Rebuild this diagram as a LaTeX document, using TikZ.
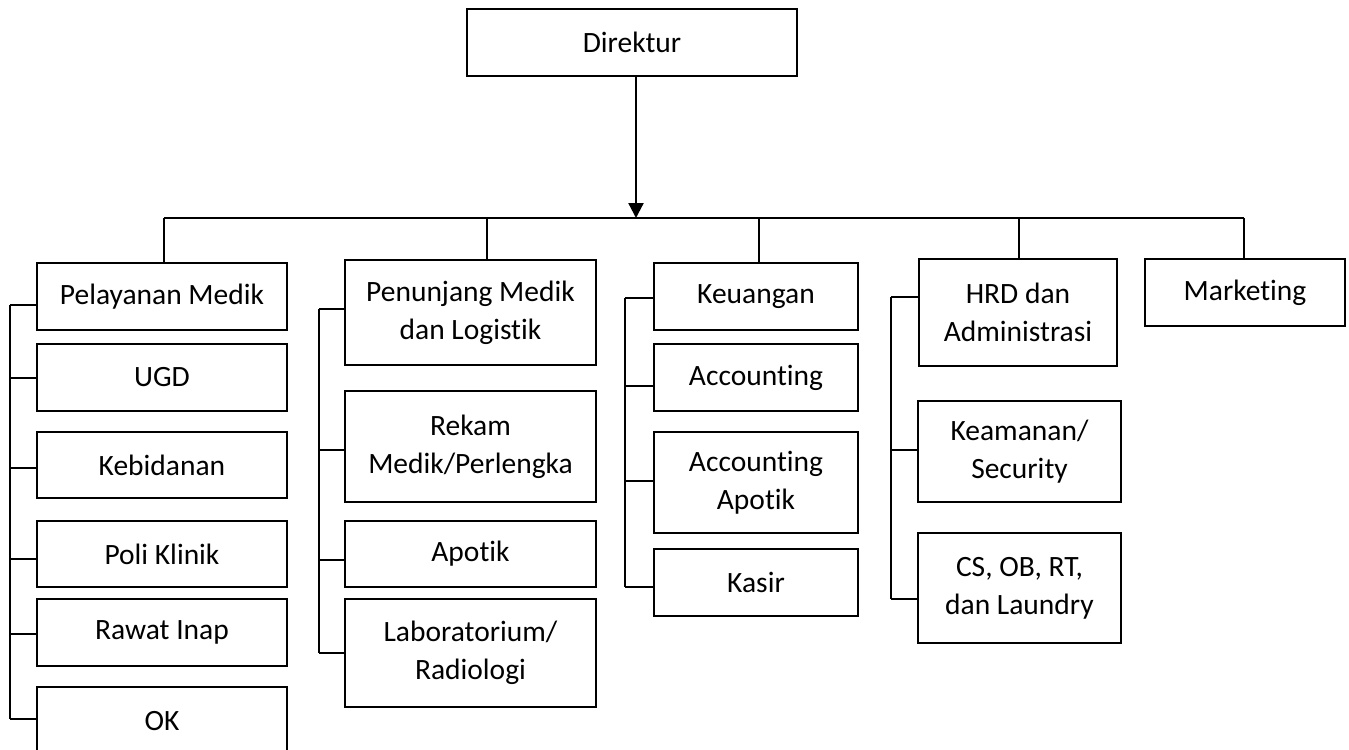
\documentclass[tikz,border=0pt]{standalone}
\usepackage{fontspec}
\setmainfont{Carlito}[Ligatures=NoCommon]
\usepackage{tikz}
\usetikzlibrary{positioning, arrows.meta, calc}

\begin{document}
\begin{tikzpicture}[x=0.4pt, y=-0.4pt, font=\fontsize{11.8}{15.2}\selectfont, >={Triangle[width=6pt, length=6pt]}]
        % 공통 스타일 설정
        \tikzset{
            unit/.style={draw, line width=1pt, align=center, inner sep=0pt},
            link/.style={line width=0.9pt}
        }
        \useasboundingbox (0,0) rectangle (1349,749);

        % --- 최상위 ---
        \node[unit, minimum width=132pt, minimum height=26.8pt] (dir) at (632,42.5) {Direktur};

        % --- 부서 (1단) ---
        \node[unit, minimum width=100pt, minimum height=26.8pt] (pel) at (162,296.5) {Pelayanan Medik};
        \node[unit, minimum width=100.4pt, minimum height=42pt] (pen) at (470.5,312.5) {Penunjang Medik\\dan Logistik};
        \node[unit, minimum width=81.6pt, minimum height=26.8pt] (keu) at (756,296.5) {Keuangan};
        \node[unit, minimum width=79.2pt, minimum height=42.8pt] (hrd) at (1018,312.5) {HRD dan\\Administrasi};
        \node[unit, minimum width=80pt, minimum height=26.8pt] (mkt) at (1245,292.5) {Marketing};

        % --- Pelayanan Medik 하위 ---
        \node[unit, minimum width=100pt, minimum height=26.8pt] (ugd) at (162,377.5) {UGD};
        \node[unit, minimum width=100pt, minimum height=26.4pt] (keb) at (162,465) {Kebidanan};
        \node[unit, minimum width=100pt, minimum height=26.4pt] (poli) at (162,554) {Poli Klinik};
        \node[unit, minimum width=100pt, minimum height=26.8pt] (rawat) at (162,632.5) {Rawat Inap};
        \node[unit, minimum width=100pt, minimum height=27.2pt] (ok) at (162,721) {OK};

        % --- Penunjang Medik 하위 ---
        \node[unit, minimum width=100.4pt, minimum height=44.4pt] (rekam) at (470.5,446.5) {Rekam\\Medik/Perlengka};
        \node[unit, minimum width=100.4pt, minimum height=26.4pt] (apotik) at (470.5,554) {Apotik};
        \node[unit, minimum width=100.4pt, minimum height=43.2pt] (lab) at (470.5,653) {Laboratorium/\\Radiologi};

        % --- Keuangan 하위 ---
        \node[unit, minimum width=81.6pt, minimum height=26.8pt] (acc) at (756,377.5) {Accounting};
        \node[unit, minimum width=81.6pt, minimum height=40.4pt] (accap) at (756,482.5) {Accounting\\Apotik};
        \node[unit, minimum width=81.6pt, minimum height=26.8pt] (kasir) at (756,582.5) {Kasir};

        % --- HRD 하위 ---
        \node[unit, minimum width=81.2pt, minimum height=40.4pt] (keam) at (1019.5,451.5) {Keamanan/\\Security};
        \node[unit, minimum width=81.2pt, minimum height=44pt] (cs) at (1019.5,588) {CS, OB, RT,\\dan Laundry};

        % Direktur -> 가로 버스
        \coordinate (top) at (636,218);
        \draw[link, ->] (top |- dir.south) -- (top);
        \foreach \n/\x in {pel/164, pen/487, keu/759, hrd/1019, mkt/1244} {
            \coordinate (d-\n) at (\x,218);
        }
        \draw[link] (d-pel) -- (d-mkt);
        \foreach \n in {pel, pen, keu, hrd, mkt} {
            \draw[link] (d-\n) -- (d-\n |- \n.north);
        }

        % 세로 레일과 가지선
        \coordinate (r1) at (10,0);
        \coordinate (r2) at (319,0);
        \coordinate (r3) at (625,0);
        \coordinate (r4) at (891,0);
        \foreach \n/\s/\r in {pel/8.5/r1, ugd/0.5/r1, keb/3/r1, poli/5/r1, rawat/1.5/r1, ok/-2/r1,
                              pen/-3.5/r2, rekam/3.5/r2, apotik/6/r2, lab/0/r2,
                              keu/1.5/r3, acc/8.5/r3, accap/-1.5/r3, kasir/4.5/r3,
                              hrd/-15.5/r4, keam/-1.5/r4, cs/11/r4} {
            \coordinate (s-\n) at ($(\n.west)+(0,\s)$);
            \draw[link] (s-\n) -- (s-\n -| \r);
        }
        \draw[link] (s-pel -| r1) -- (s-ok -| r1);
        \draw[link] (s-pen -| r2) -- (s-lab -| r2);
        \draw[link] (s-keu -| r3) -- (s-kasir -| r3);
        \draw[link] (s-hrd -| r4) -- (s-cs -| r4);
    \end{tikzpicture}
\end{document}
